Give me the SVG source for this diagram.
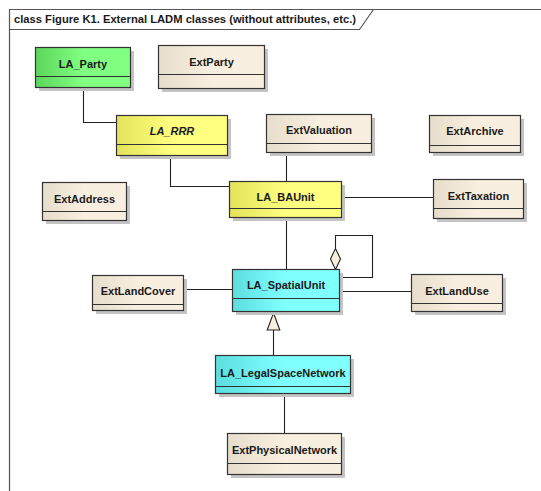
<svg xmlns="http://www.w3.org/2000/svg" width="541" height="491" viewBox="0 0 541 491">
<defs>
<linearGradient id="gGreen" x1="0" y1="0" x2="1" y2="0"><stop offset="0" stop-color="#5cd65c"/><stop offset="0.5" stop-color="#80ff80"/></linearGradient>
<linearGradient id="gYellow" x1="0" y1="0" x2="1" y2="0"><stop offset="0" stop-color="#e3e35a"/><stop offset="0.5" stop-color="#ffff80"/></linearGradient>
<linearGradient id="gCyan" x1="0" y1="0" x2="1" y2="0"><stop offset="0" stop-color="#5cdede"/><stop offset="0.5" stop-color="#80ffff"/></linearGradient>
<linearGradient id="gBeige" x1="0" y1="0" x2="1" y2="0"><stop offset="0" stop-color="#e6ddcc"/><stop offset="0.5" stop-color="#f8efe0"/></linearGradient>
</defs>
<style>
.shadow{fill:#c4c4c4;stroke:none}
.box{stroke:#333;stroke-width:1.2}
.div{stroke:#333;stroke-width:1.2}
.lbl{font-family:"Liberation Sans",Arial,sans-serif;font-size:11px;font-weight:bold;fill:#1a1a1a;text-anchor:middle}
.it{font-style:italic}
.green{fill:url(#gGreen)}
.yellow{fill:url(#gYellow)}
.cyan{fill:url(#gCyan)}
.beige{fill:url(#gBeige)}
.conn{fill:none;stroke:#222;stroke-width:1.1}
.frame{fill:none;stroke:#555;stroke-width:1.2}
</style>
<rect width="541" height="491" fill="#ffffff"/>
<g id="frame">
<path class="frame" d="M9.5 491 V9.5 H541"/>
<path class="frame" d="M9.5 29.5 H359.5 L373.5 9.5"/>
<text x="14" y="23" font-family="'Liberation Sans',Arial,sans-serif" font-size="10" font-weight="bold" fill="#1a1a1a" textLength="342" lengthAdjust="spacingAndGlyphs">class Figure K1. External LADM classes (without attributes, etc.)</text>
</g>
<g id="connectors">
<path class="conn" d="M83.5 88 V122.5 H116.5"/>
<path class="conn" d="M170.5 155.5 V186.5 H229.5"/>
<path class="conn" d="M286.5 152.5 V181.5"/>
<path class="conn" d="M341.5 197.5 H433.5"/>
<path class="conn" d="M286.5 217.5 V269.5"/>
<path class="conn" d="M183.5 289.5 H232.5"/>
<path class="conn" d="M339.5 291.5 H411.5"/>
<path class="conn" d="M339.5 277.5 H372.5 V235.5 H335.5 V248.5"/>
<polygon points="335.5,248.5 340.5,259 335.5,269.5 330.5,259" fill="#f8efe0" stroke="#222" stroke-width="1.1"/>
<path class="conn" d="M273.5 355.5 V330"/>
<polygon points="273.5,313 279.8,330 267.2,330" fill="#f8efe0" stroke="#222" stroke-width="1.1"/>
<path class="conn" d="M284.5 393.5 V433.5"/>
</g>
<g id="LA_Party">
<rect class="shadow" x="39" y="51" width="95" height="40"/>
<rect class="box green" x="35.5" y="47.5" width="95" height="40"/>
<line class="div" x1="35.5" y1="76.5" x2="130.5" y2="76.5"/>
<text class="lbl" x="83" y="68">LA_Party</text>
</g>
<g id="ExtParty">
<rect class="shadow" x="162" y="49" width="106" height="43"/>
<rect class="box beige" x="158.5" y="45.5" width="106" height="43"/>
<line class="div" x1="158.5" y1="74.5" x2="264.5" y2="74.5"/>
<text class="lbl" x="211.5" y="66">ExtParty</text>
</g>
<g id="LA_RRR">
<rect class="shadow" x="120" y="119" width="111" height="40"/>
<rect class="box yellow" x="116.5" y="115.5" width="111" height="40"/>
<line class="div" x1="116.5" y1="144.5" x2="227.5" y2="144.5"/>
<text class="lbl it" x="172" y="135">LA_RRR</text>
</g>
<g id="ExtValuation">
<rect class="shadow" x="270" y="118" width="105" height="38"/>
<rect class="box beige" x="266.5" y="114.5" width="105" height="38"/>
<line class="div" x1="266.5" y1="143.5" x2="371.5" y2="143.5"/>
<text class="lbl" x="319" y="134">ExtValuation</text>
</g>
<g id="ExtArchive">
<rect class="shadow" x="433" y="119" width="91" height="37"/>
<rect class="box beige" x="429.5" y="115.5" width="91" height="37"/>
<line class="div" x1="429.5" y1="145.5" x2="520.5" y2="145.5"/>
<text class="lbl" x="475" y="135">ExtArchive</text>
</g>
<g id="ExtAddress">
<rect class="shadow" x="46" y="186" width="84" height="38"/>
<rect class="box beige" x="42.5" y="182.5" width="84" height="38"/>
<line class="div" x1="42.5" y1="211.5" x2="126.5" y2="211.5"/>
<text class="lbl" x="84.5" y="203">ExtAddress</text>
</g>
<g id="LA_BAUnit">
<rect class="shadow" x="233" y="185" width="112" height="36"/>
<rect class="box yellow" x="229.5" y="181.5" width="112" height="36"/>
<line class="div" x1="229.5" y1="208.5" x2="341.5" y2="208.5"/>
<text class="lbl" x="285.5" y="201">LA_BAUnit</text>
</g>
<g id="ExtTaxation">
<rect class="shadow" x="437" y="183" width="90" height="39"/>
<rect class="box beige" x="433.5" y="179.5" width="90" height="39"/>
<line class="div" x1="433.5" y1="208.5" x2="523.5" y2="208.5"/>
<text class="lbl" x="478.5" y="200">ExtTaxation</text>
</g>
<g id="ExtLandCover">
<rect class="shadow" x="96" y="279" width="91" height="35"/>
<rect class="box beige" x="92.5" y="275.5" width="91" height="35"/>
<line class="div" x1="92.5" y1="304.5" x2="183.5" y2="304.5"/>
<text class="lbl" x="138" y="295">ExtLandCover</text>
</g>
<g id="LA_SpatialUnit">
<rect class="shadow" x="236" y="273" width="107" height="42"/>
<rect class="box cyan" x="232.5" y="269.5" width="107" height="42"/>
<line class="div" x1="232.5" y1="298.5" x2="339.5" y2="298.5"/>
<text class="lbl" x="286" y="289">LA_SpatialUnit</text>
</g>
<g id="ExtLandUse">
<rect class="shadow" x="415" y="278" width="91" height="37"/>
<rect class="box beige" x="411.5" y="274.5" width="91" height="37"/>
<line class="div" x1="411.5" y1="303.5" x2="502.5" y2="303.5"/>
<text class="lbl" x="457" y="295">ExtLandUse</text>
</g>
<g id="LA_LegalSpaceNetwork">
<rect class="shadow" x="219" y="359" width="135" height="38"/>
<rect class="box cyan" x="215.5" y="355.5" width="135" height="38"/>
<line class="div" x1="215.5" y1="386.5" x2="350.5" y2="386.5"/>
<text class="lbl" x="283" y="377">LA_LegalSpaceNetwork</text>
</g>
<g id="ExtPhysicalNetwork">
<rect class="shadow" x="231" y="437" width="114" height="41"/>
<rect class="box beige" x="227.5" y="433.5" width="114" height="41"/>
<line class="div" x1="227.5" y1="463.5" x2="341.5" y2="463.5"/>
<text class="lbl" x="284.5" y="454">ExtPhysicalNetwork</text>
</g>
</svg>
